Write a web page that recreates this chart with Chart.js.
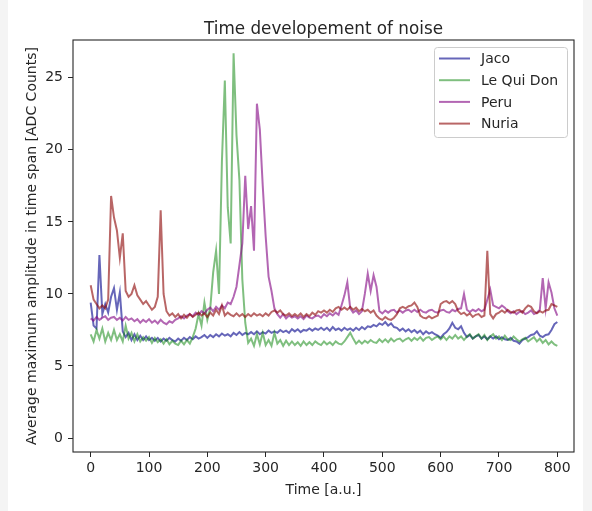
<!DOCTYPE html>
<html>
<head>
<meta charset="utf-8">
<title>Time developement of noise</title>
<script src="https://cdn.jsdelivr.net/npm/chart.js@4.4.1/dist/chart.umd.min.js"></script>
<style>
    body { margin: 0; background: #f4f4f4; }
    #wrap { position: relative; width: 592px; height: 511px; }
    #paper { position: absolute; left: 8px; top: 0; width: 575px; height: 511px; background: #fff; }
    #noiseChart { position: absolute; left: 0; top: 0; }
</style>
</head>
<body>
<div id="wrap">
    <div id="paper"></div>
    <canvas id="noiseChart" width="592" height="511"></canvas>
</div>
<script>
// one sample every 5 time units
var timeSteps = Array.from({ length: 161 }, function (_, i) { return i * 5; });

var timeTicks = [0, 100, 200, 300, 400, 500, 600, 700, 800];
var ampTicks = [0, 5, 10, 15, 20, 25];

var stationNames = ['Jaco', 'Le Qui Don', 'Peru', 'Nuria'];

var jacoNoise = [
    9.4, 7.8, 7.6, 12.7, 8.6, 9.3, 8.7, 9.8, 10.4, 8.9,
    10.1, 7.4, 7.0, 7.3, 6.8, 7.2, 6.8, 7.1, 6.8, 7.05,
    6.8, 6.95, 6.75, 6.95, 6.7, 6.9, 6.75, 6.95, 6.8, 6.7,
    6.9, 6.75, 6.95, 6.8, 7.0, 6.85, 7.05, 6.9, 7.0, 7.15,
    6.95, 7.15, 7.0, 7.2, 7.05, 7.25, 7.1, 7.2, 7.05, 7.3,
    7.15, 7.35, 7.15, 7.3, 7.2, 7.35, 7.2, 7.4, 7.2, 7.35,
    7.25, 7.45, 7.3, 7.4, 7.3, 7.5, 7.35, 7.45, 7.3, 7.55,
    7.4, 7.55, 7.35, 7.5, 7.45, 7.6, 7.45, 7.6, 7.5, 7.65,
    7.5, 7.65, 7.45, 7.7, 7.5, 7.6, 7.45, 7.65, 7.5, 7.6,
    7.45, 7.65, 7.5, 7.7, 7.55, 7.75, 7.7, 7.85, 7.75, 7.95,
    7.85, 8.05, 7.8, 7.95, 7.7, 7.65, 7.45, 7.6, 7.4, 7.55,
    7.35, 7.5, 7.3, 7.45, 7.2, 7.4, 7.25, 7.35, 7.2, 7.1,
    6.95, 7.2, 7.35, 7.6, 8.0, 7.65, 7.55, 7.75, 7.3, 7.0,
    7.15, 6.9, 7.05, 7.15, 6.9, 7.05, 6.85, 7.05, 6.9, 7.05,
    6.85, 7.0, 6.85, 6.8, 6.95, 6.75, 6.7, 6.55, 6.8, 6.9,
    7.0, 7.15, 7.2, 7.4, 7.1, 7.0, 7.15, 7.2, 7.5, 7.9,
    8.05
];

var leQuiDonNoise = [
    7.2, 6.7, 7.5, 6.9, 7.6, 6.7, 7.3, 6.8, 7.5, 6.8,
    7.2, 6.7, 7.8, 6.9, 7.3, 6.7, 7.2, 6.7, 7.0, 6.75,
    7.0, 6.6, 6.95, 6.65, 6.85, 6.55, 6.85, 6.5, 6.75, 6.55,
    6.45, 6.75, 6.5, 6.8, 6.55, 7.0, 7.6, 8.6, 7.8, 9.4,
    8.2, 9.0, 11.5, 13.0, 10.0, 19.2, 24.8, 16.0, 13.5, 26.7,
    21.0, 17.9, 11.0, 8.0, 6.6, 6.9, 6.4, 7.2, 6.5, 7.3,
    6.45, 6.8, 6.4, 7.3, 6.55, 6.8, 6.4, 6.75, 6.45, 6.7,
    6.45, 6.65, 6.4, 6.7, 6.45, 6.65, 6.45, 6.7, 6.55, 6.45,
    6.7, 6.5, 6.65, 6.45, 6.7, 6.55, 6.5, 6.7, 7.0, 7.3,
    6.9, 6.55, 6.75, 6.55, 6.75, 6.6, 6.8, 6.65, 6.6, 6.85,
    6.65, 6.85, 6.65, 6.9, 6.7, 6.85, 6.9, 6.7, 6.85, 6.95,
    6.75, 6.95, 6.8, 7.0, 6.75, 6.95, 7.0, 6.8, 6.95, 7.05,
    6.85, 7.05, 6.8, 7.05, 6.9, 7.15, 6.9, 7.05, 6.8, 7.05,
    7.2, 6.9, 7.05, 7.2, 6.9, 7.15, 6.8, 7.05, 7.2, 6.9,
    7.05, 6.8, 7.1, 6.85, 6.8, 7.05, 6.85, 6.7, 6.85, 6.95,
    6.7, 6.85, 7.0, 6.7, 6.9, 6.6, 6.8, 6.5, 6.7, 6.5,
    6.4
];

var peruNoise = [
    8.3, 8.15, 8.4, 8.2, 8.35, 8.45, 8.2, 8.35, 8.4, 8.2,
    8.35, 8.15, 8.4, 8.2, 8.3, 8.1, 8.25, 8.0, 8.2, 8.05,
    8.25, 8.0, 8.15, 7.95, 8.2, 8.0, 7.9, 8.1, 8.0, 8.2,
    8.3, 8.45, 8.3, 8.5, 8.6, 8.45, 8.7, 8.55, 8.8, 8.65,
    8.9, 9.05, 8.8, 9.1, 8.9, 9.2, 9.0, 9.4, 9.3, 9.8,
    10.5, 12.0, 13.5, 18.2, 14.5, 16.1, 13.0, 23.2, 21.4, 17.5,
    14.0, 11.2, 10.2, 9.0, 8.6, 8.35, 8.6, 8.3, 8.5, 8.35,
    8.45, 8.3, 8.45, 8.25, 8.5, 8.35, 8.3, 8.45, 8.5, 8.35,
    8.6, 8.45, 8.65, 8.5, 8.7, 8.55, 9.2, 9.9, 10.8, 9.0,
    8.7, 8.85, 8.6, 8.8, 10.0, 11.4, 10.2, 11.3, 10.5, 8.8,
    8.65, 8.85, 8.7, 8.85, 8.9, 8.7, 8.85, 8.7, 8.85, 8.9,
    8.75, 8.9, 8.75, 8.9, 8.75, 8.7, 8.85, 8.9, 8.75, 8.7,
    8.85, 8.9, 8.75, 8.7, 8.9, 8.8, 8.95, 9.0, 10.0, 8.9,
    8.75, 8.9, 8.8, 8.95, 8.8, 8.9, 9.6, 10.3, 9.2, 9.1,
    9.0, 9.2, 9.05, 8.8, 8.65, 8.8, 8.6, 8.75, 8.8, 8.6,
    8.7, 8.85, 8.6, 8.7, 8.9, 11.1, 9.0, 10.8, 10.1, 9.0,
    8.5
];

var nuriaNoise = [
    10.6, 9.6, 9.3, 9.0, 9.2, 9.0, 9.6, 16.8, 15.3, 14.4,
    12.5, 14.2, 10.2, 9.8, 10.0, 10.6, 9.9, 9.6, 9.3, 9.5,
    9.2, 8.9, 9.1, 9.8, 15.8, 10.0, 8.8, 8.5, 8.65, 8.4,
    8.6, 8.3, 8.55, 8.35, 8.6, 8.4, 8.55, 8.7, 8.5, 8.65,
    8.4, 8.7, 8.5, 8.9, 8.6, 9.2, 8.5, 8.7, 8.55, 8.45,
    8.65, 8.45, 8.6, 8.4, 8.6, 8.45, 8.65, 8.5, 8.6, 8.45,
    8.65, 8.5, 8.75, 8.85, 8.7, 8.85, 8.6, 8.5, 8.65, 8.45,
    8.6, 8.45, 8.65, 8.4, 8.6, 8.45, 8.7, 8.55, 8.8, 8.7,
    8.85, 8.7, 8.9, 8.75, 9.0, 9.1, 8.9, 9.05, 8.9, 9.1,
    8.9, 9.05, 8.8, 8.95, 8.8, 8.9, 8.7, 8.85, 8.5, 8.3,
    8.2, 8.4, 8.25, 8.2, 8.35, 8.6, 9.0, 9.1, 9.0, 9.15,
    9.2, 9.4, 9.1, 8.5, 8.35, 8.3, 8.45, 8.3, 8.4, 8.5,
    9.3, 9.45, 9.5, 9.35, 9.5, 9.3, 8.8, 8.6, 8.7, 8.5,
    8.65, 8.4, 8.55, 8.6, 8.4, 8.5, 13.0, 8.6, 8.3, 8.6,
    8.7, 8.85, 8.7, 8.9, 8.75, 8.7, 8.85, 8.9, 8.7, 9.0,
    9.2, 9.1, 8.8, 8.65, 8.8, 8.7, 8.85, 8.9, 9.3, 9.2,
    9.1
];

var lineColors = [
    'rgba(0,0,139,0.6)',
    'rgba(0,128,0,0.5)',
    'rgba(128,0,128,0.6)',
    'rgba(139,0,0,0.6)'
];

var inkColor = '#262626';

Chart.defaults.font.family = '"DejaVu Sans", sans-serif';
Chart.defaults.font.size = 14;
Chart.defaults.color = inkColor;

// matplotlib-like frame, title and legend box
var decorations = {
    id: 'decorations',
    afterDraw: function (chart) {
        var ctx = chart.ctx;
        var area = chart.chartArea;

        ctx.save();
        ctx.strokeStyle = inkColor;
        ctx.lineWidth = 1.1;
        ctx.strokeRect(area.left, area.top, area.right - area.left, area.bottom - area.top);

        ctx.fillStyle = inkColor;
        ctx.font = '16.8px "DejaVu Sans"';
        ctx.textAlign = 'center';
        ctx.textBaseline = 'alphabetic';
        ctx.fillText('Time developement of noise', (area.left + area.right) / 2, 34);

        // legend
        var bx = 434, by = 47, bw = 133, bh = 90;
        ctx.beginPath();
        ctx.roundRect(bx + 0.5, by + 0.5, bw, bh, 3);
        ctx.fillStyle = 'rgba(255,255,255,0.8)';
        ctx.fill();
        ctx.strokeStyle = '#cccccc';
        ctx.lineWidth = 1;
        ctx.stroke();

        ctx.font = '14px "DejaVu Sans"';
        ctx.textAlign = 'left';
        ctx.textBaseline = 'middle';
        chart.data.datasets.forEach(function (ds, i) {
            var y = 58.5 + i * 21.7;
            ctx.strokeStyle = ds.borderColor;
            ctx.lineWidth = 2;
            ctx.beginPath();
            ctx.moveTo(439, y);
            ctx.lineTo(470, y);
            ctx.stroke();
            ctx.fillStyle = inkColor;
            ctx.fillText(ds.label, 481, y + 1);
        });
        ctx.restore();
    }
};

var seriesValues = [jacoNoise, leQuiDonNoise, peruNoise, nuriaNoise];

var noiseChart = new Chart(document.getElementById('noiseChart').getContext('2d'), {
    type: 'line',
    data: {
        labels: timeSteps,
        datasets: seriesValues.map(function (values, i) {
            return {
                label: stationNames[i],
                data: values,
                borderColor: lineColors[i],
                backgroundColor: lineColors[i],
                borderWidth: 2,
                pointRadius: 0,
                tension: 0,
                fill: false,
                order: 4 - i
            };
        })
    },
    options: {
        responsive: false,
        animation: false,
        devicePixelRatio: 1,
        layout: { padding: { left: 0, right: 18, top: 40, bottom: 0 } },
        plugins: {
            legend: { display: false },
            title: { display: false },
            tooltip: { enabled: false }
        },
        scales: {
            x: {
                type: 'linear',
                min: -30.3,
                max: 828.6,
                afterFit: function (scale) { scale.height = 59; },
                afterBuildTicks: function (scale) {
                    scale.ticks = timeTicks.map(function (v) { return { value: v }; });
                },
                grid: { drawOnChartArea: false, tickLength: 5, color: inkColor },
                border: { display: false },
                ticks: { padding: 3, maxRotation: 0 },
                title: {
                    display: true,
                    text: 'Time [a.u.]',
                    padding: { top: 0, bottom: 12 }
                }
            },
            y: {
                min: -0.97,
                max: 27.62,
                afterFit: function (scale) { scale.width = 73; },
                afterBuildTicks: function (scale) {
                    scale.ticks = ampTicks.map(function (v) { return { value: v }; });
                },
                grid: { drawOnChartArea: false, tickLength: 5, color: inkColor },
                border: { display: false },
                ticks: { padding: 5 },
                title: {
                    display: true,
                    text: 'Average maximum amplitude in time span [ADC Counts]',
                    padding: { top: 24, bottom: 0 }
                }
            }
        }
    },
    plugins: [decorations]
});
</script>
</body>
</html>
